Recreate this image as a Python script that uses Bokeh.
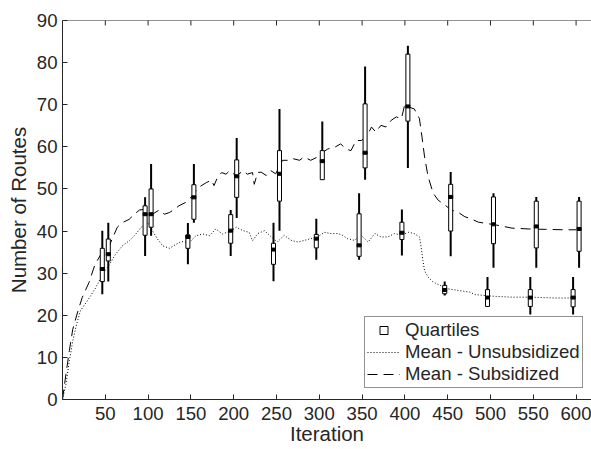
import math
from bokeh.plotting import figure
from bokeh.models import Range1d, FixedTicker, Legend, LegendItem, ColumnDataSource, Span
from bokeh.embed import file_html
from bokeh.resources import INLINE

# ---------------- data ----------------
iters = [50, 100, 150, 200, 250, 300, 350, 400, 450, 500, 550, 600]

# Unsubsidized quartiles
unsub_lo  = [25.0, 34.1, 32.1, 34.1, 28.1, 33.2, 33.2, 34.2, 24.7, 22.0, 20.2, 20.2]
unsub_q1  = [28.0, 39.0, 35.9, 37.1, 32.1, 36.0, 34.0, 38.0, 25.1, 22.1, 22.1, 22.0]
unsub_med = [31.0, 44.0, 38.6, 40.1, 35.6, 38.2, 36.6, 39.6, 26.0, 24.2, 24.2, 24.2]
unsub_q3  = [35.9, 46.0, 39.1, 43.9, 37.1, 39.2, 44.1, 42.1, 27.1, 26.1, 26.1, 26.1]
unsub_hi  = [40.1, 48.0, 41.9, 45.0, 42.0, 42.9, 49.0, 45.1, 28.0, 29.1, 29.1, 29.1]

# Subsidized quartiles
sub_lo  = [28.0, 38.9, 42.0, 43.1, 40.1, 52.2, 52.2, 55.0, 34.0, 31.3, 31.3, 31.3]
sub_q1  = [32.9, 40.9, 42.8, 48.0, 47.1, 52.2, 55.0, 66.1, 40.0, 37.0, 36.0, 35.2]
sub_med = [34.5, 44.0, 48.0, 53.0, 53.6, 56.6, 58.6, 69.6, 48.1, 41.6, 41.1, 40.5]
sub_q3  = [38.1, 50.0, 51.0, 56.9, 59.1, 59.1, 70.2, 82.0, 51.1, 48.1, 47.1, 47.1]
sub_hi  = [42.0, 55.9, 55.9, 62.1, 69.0, 66.0, 79.1, 84.0, 54.0, 49.0, 48.1, 48.1]

# Mean - Unsubsidized
unsub_x = [0, 4, 8, 12, 16, 21, 29, 39, 47, 55, 62, 70, 78, 84, 92, 100, 105, 111, 117,
           125, 133, 139, 148, 156, 164, 172, 179, 187, 197, 203, 211, 218, 222, 228, 236,
           244, 251, 259, 267, 275, 283, 290, 298, 306, 314, 322, 327, 333, 341, 349, 357,
           365, 372, 380, 388, 396, 404, 411, 417, 419, 421, 423, 427, 433, 441, 450, 462,
           476, 482, 505, 525, 548, 575, 600]
unsub_y = [0, 3.6, 9.2, 13.9, 17.5, 21.1, 23.4, 26.6, 29.8, 32.1, 34.5, 36.5, 37.7, 38.9,
           40.9, 42.0, 40.1, 38.1, 36.5, 35.9, 36.9, 37.5, 37.3, 38.9, 39.3, 38.9, 40.5, 39.3,
           40.1, 40.9, 40.1, 39.7, 37.7, 39.4, 40.1, 38.6, 37.4, 39.0, 37.8, 37.4, 37.8, 38.2,
           38.6, 39.7, 39.4, 39.4, 39.0, 38.2, 37.8, 39.0, 37.4, 39.4, 38.6, 38.6, 39.4, 39.0,
           39.7, 39.4, 38.6, 36.2, 33.0, 30.6, 29.1, 27.9, 27.1, 26.3, 25.9, 25.5, 24.9, 24.5,
           24.3, 24.3, 24.1, 24.1]

# Mean - Subsidized
sub_x = [0, 4, 8, 12, 18, 23, 31, 38, 45, 53, 58, 64, 70, 78, 84, 90, 97, 105, 113, 119,
         125, 131, 136, 144, 150, 160, 168, 174, 177, 181, 186, 191, 195, 203, 211, 216, 222,
         224, 228, 232, 238, 243, 249, 257, 263, 269, 277, 282, 290, 298, 304, 310, 318, 325,
         331, 337, 343, 349, 355, 361, 366, 372, 378, 384, 390, 396, 400, 405, 411, 417, 420,
         423, 427, 433, 439, 446, 454, 462, 470, 476, 486, 505, 525, 544, 564, 587, 600]
sub_y = [0, 6.0, 11.6, 16.7, 21.0, 24.2, 27.8, 32.1, 34.5, 35.7, 38.1, 40.9, 42.0, 42.8,
         44.0, 45.0, 45.2, 44.0, 45.0, 44.0, 44.4, 45.2, 46.0, 46.8, 48.0, 50.5, 51.5, 52.1,
         50.8, 52.7, 53.9, 53.5, 54.3, 53.1, 54.3, 53.5, 53.9, 51.1, 53.9, 54.0, 53.2, 54.4,
         53.6, 56.8, 56.8, 57.2, 56.8, 57.6, 56.8, 57.6, 58.7, 59.5, 59.9, 60.7, 59.5, 59.1,
         61.5, 61.5, 62.3, 64.7, 63.5, 65.1, 64.7, 66.3, 67.1, 66.7, 70.2, 69.4, 69.0, 66.7,
         62.3, 57.6, 53.0, 49.0, 47.3, 46.3, 45.0, 44.5, 43.4, 43.0, 42.1, 41.5, 40.7, 40.5,
         40.4, 40.3, 40.3]

x_ticks = [50, 100, 150, 200, 250, 300, 350, 400, 450, 500, 550, 600]
y_ticks = [0, 10, 20, 30, 40, 50, 60, 70, 80, 90]

# ---------------- figure ----------------
AX = "#262626"
FONT = "Liberation Sans"

p = figure(width=591, height=449, output_backend="svg", toolbar_location=None,
           x_range=Range1d(0, 618), y_range=Range1d(y_ticks[0], y_ticks[-1]),
           min_border_left=62, min_border_right=0, min_border_top=20, min_border_bottom=50)
p.outline_line_color = None
p.xgrid.grid_line_color = None
p.ygrid.grid_line_color = None

for ax in (p.xaxis[0], p.yaxis[0]):
    ax.axis_line_color = AX
    ax.major_tick_line_color = AX
    ax.major_tick_in = 5
    ax.major_tick_out = 0
    ax.minor_tick_line_color = None
    ax.major_label_text_font = FONT
    ax.major_label_text_font_size = "18.6px"
    ax.major_label_text_color = AX
    ax.axis_label_text_font = FONT
    ax.axis_label_text_font_size = "20.5px"
    ax.axis_label_text_font_style = "normal"
    ax.axis_label_text_color = AX

p.xaxis.ticker = FixedTicker(ticks=x_ticks)
p.yaxis.ticker = FixedTicker(ticks=y_ticks)
p.xaxis.axis_label = "Iteration"
p.yaxis.axis_label = "Number of Routes"
p.xaxis.major_label_standoff = 7
p.xaxis.axis_label_standoff = -1
p.yaxis.major_label_standoff = 5
p.yaxis.axis_label_standoff = 4

# top box edge with inward ticks
p.add_layout(Span(location=y_ticks[-1], dimension="width", line_color=AX, line_width=1))
p.scatter(x=x_ticks, y=[y_ticks[-1]] * len(x_ticks), marker="dash", angle=math.pi / 2,
          size=10, line_color=AX, line_width=1)

# mean lines
r_dot = p.line(unsub_x, unsub_y, line_color="black", line_width=1, line_dash="1 2")
r_dash = p.line(sub_x, sub_y, line_color="black", line_width=1, line_dash="10 6")

# boxes
off = 3.5
box_srcs = []
for sign, lo, q1, med, q3, hi in [(-1, unsub_lo, unsub_q1, unsub_med, unsub_q3, unsub_hi),
                                  (1, sub_lo, sub_q1, sub_med, sub_q3, sub_hi)]:
    src = ColumnDataSource(dict(x=[i + sign * off for i in iters], lo=lo, q1=q1, med=med, q3=q3, hi=hi))
    box_srcs.append(src)
    p.segment(x0="x", y0="lo", x1="x", y1="hi", source=src, line_color="black", line_width=2)
    p.vbar(x="x", width=4.7, bottom="q1", top="q3", source=src,
           fill_color="white", line_color="black", line_width=1)
    p.rect(x="x", y="med", width=4.7, height=3, height_units="screen", source=src,
           fill_color="black", line_color="black", line_width=1)

# legend-only quartile marker (hidden in the plot)
sq = p.scatter(x="x", y="med", source=box_srcs[0], marker="square", size=4,
               fill_color="white", line_color="black", line_width=1)
sq.visible = False

legend = Legend(items=[LegendItem(label="Quartiles", renderers=[sq]),
                       LegendItem(label="Mean - Unsubsidized", renderers=[r_dot]),
                       LegendItem(label="Mean - Subsidized", renderers=[r_dash])],
                location=(302, 11))
legend.label_text_font = FONT
legend.label_text_font_size = "18.6px"
legend.label_text_color = AX
legend.border_line_color = AX
legend.border_line_width = 1
legend.background_fill_color = "white"
legend.background_fill_alpha = 1
legend.inactive_fill_alpha = 0
legend.padding = 2
legend.spacing = 0
legend.margin = 0
legend.glyph_width = 33
legend.glyph_height = 20
legend.label_height = 20
legend.label_standoff = 5
p.add_layout(legend)

open("out.html", "w").write(file_html(p, INLINE))
